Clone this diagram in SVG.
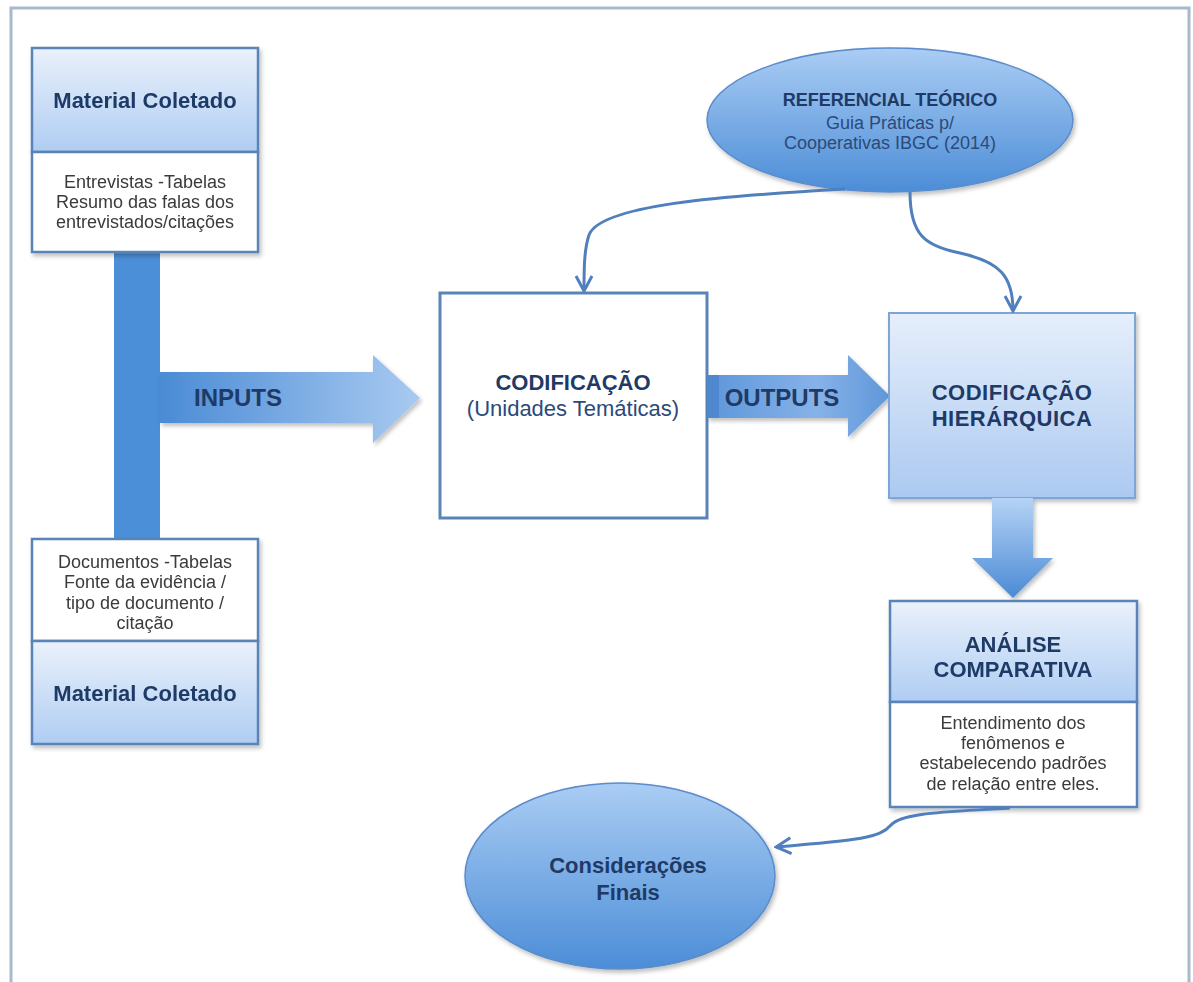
<svg xmlns="http://www.w3.org/2000/svg" width="1193" height="982" viewBox="0 0 1193 982">
  <style>
    .frame { fill: none; stroke: #a7b9cb; stroke-width: 3; }
    .hdr { fill: url(#hdrGrad); stroke: #5a84b8; stroke-width: 2.5; }
    .body { fill: #ffffff; stroke: #5a84b8; stroke-width: 2.5; }
    .plain { fill: #ffffff; stroke: #5a84b8; stroke-width: 3; }
    .title { font-family: "Liberation Sans", Arial, sans-serif; font-weight: bold; fill: #1f3a66; text-anchor: middle; }
    .txt { font-family: "Liberation Sans", Arial, sans-serif; fill: #3a3a3a; text-anchor: middle; }
    .sub { font-family: "Liberation Sans", Arial, sans-serif; fill: #2c4a78; text-anchor: middle; }
    .conn { fill: none; stroke: #4f7fbd; stroke-width: 3; }
  </style>
  <defs>
    <linearGradient id="hdrGrad" x1="0" y1="0" x2="0" y2="1">
      <stop offset="0" stop-color="#eaf1fb"/>
      <stop offset="1" stop-color="#afcdf3"/>
    </linearGradient>
    <linearGradient id="hierGrad" x1="0" y1="0" x2="0" y2="1">
      <stop offset="0" stop-color="#e6effb"/>
      <stop offset="1" stop-color="#abc9f1"/>
    </linearGradient>
    <linearGradient id="ellGrad" x1="0" y1="0" x2="0" y2="1">
      <stop offset="0" stop-color="#aacdf4"/>
      <stop offset="1" stop-color="#4c8dd7"/>
    </linearGradient>
    <linearGradient id="inGrad" x1="160" y1="0" x2="420" y2="0" gradientUnits="userSpaceOnUse">
      <stop offset="0" stop-color="#4a8bd5"/>
      <stop offset="1" stop-color="#a9caf1"/>
    </linearGradient>
    <linearGradient id="outGrad" x1="707" y1="0" x2="890" y2="0" gradientUnits="userSpaceOnUse">
      <stop offset="0" stop-color="#5d96da"/>
      <stop offset="0.6" stop-color="#86b2e8"/>
      <stop offset="1" stop-color="#5f97d9"/>
    </linearGradient>
    <linearGradient id="downGrad" x1="0" y1="498" x2="0" y2="598" gradientUnits="userSpaceOnUse">
      <stop offset="0" stop-color="#b6d3f5"/>
      <stop offset="1" stop-color="#4a8ad5"/>
    </linearGradient>
    <filter id="shadow" x="-10%" y="-10%" width="125%" height="125%">
      <feDropShadow dx="2" dy="3" stdDeviation="2" flood-color="#000000" flood-opacity="0.25"/>
    </filter>
    <marker id="arrow" viewBox="0 0 20 20" refX="18" refY="10" markerWidth="20" markerHeight="20" markerUnits="userSpaceOnUse" orient="auto">
      <path d="M3,2 L18,10 L3,18" fill="none" stroke="#4f7fbd" stroke-width="3"/>
    </marker>
  </defs>

  <rect x="0" y="0" width="1193" height="982" fill="#ffffff"/>
  <path class="frame" d="M11,990 L11,8 L1189,8 L1189,990"/>

  <!-- T-shaped INPUTS connector -->
  <g id="inputs">
    <rect x="114" y="252" width="46" height="288" fill="#4b8fd8"/>
    <polygon points="160,372 373,372 373,355 420,398 373,443 373,423 160,423" fill="url(#inGrad)" filter="url(#shadow)"/>
    <text class="title" x="238" y="406" font-size="24" fill="#1f4a85">INPUTS</text>
  </g>

  <g id="material-top" filter="url(#shadow)">
    <rect class="hdr" x="32" y="48" width="226" height="104"/>
    <rect class="body" x="32" y="152" width="226" height="100"/>
    <text class="title" x="145" y="108" font-size="22">Material Coletado</text>
    <text class="txt" x="145" y="188" font-size="18">Entrevistas -Tabelas</text>
    <text class="txt" x="145" y="208" font-size="18">Resumo das falas dos</text>
    <text class="txt" x="145" y="228" font-size="18">entrevistados/citações</text>
  </g>

  <g id="material-bottom" filter="url(#shadow)">
    <rect class="body" x="32" y="539" width="226" height="102"/>
    <rect class="hdr" x="32" y="641" width="226" height="103"/>
    <text class="txt" x="145" y="568" font-size="18">Documentos -Tabelas</text>
    <text class="txt" x="145" y="588" font-size="18">Fonte da evidência /</text>
    <text class="txt" x="145" y="609" font-size="18">tipo de documento /</text>
    <text class="txt" x="145" y="629" font-size="18">citação</text>
    <text class="title" x="145" y="701" font-size="22">Material Coletado</text>
  </g>

  <g id="codificacao">
    <rect class="plain" x="440" y="293" width="267" height="225"/>
    <text class="title" x="573" y="390" font-size="22">CODIFICAÇÃO</text>
    <text class="sub" x="573" y="416" font-size="22">(Unidades Temáticas)</text>
  </g>

  <g id="outputs">
    <polygon points="707,375 848,375 848,355 890,396 848,437 848,418 707,418" fill="url(#outGrad)" filter="url(#shadow)"/>
    <rect x="707" y="375" width="12" height="43" fill="#4f88cf"/>
    <text class="title" x="782" y="406" font-size="24" fill="#1f4a85">OUTPUTS</text>
  </g>

  <g id="codificacao-hierarquica">
    <rect x="889" y="313" width="246" height="185" fill="url(#hierGrad)" stroke="#7ea5d6" stroke-width="2" filter="url(#shadow)"/>
    <text class="title" x="1012" y="400" font-size="22" letter-spacing="0.5">CODIFICAÇÃO</text>
    <text class="title" x="1012" y="426" font-size="22" letter-spacing="0.5">HIERÁRQUICA</text>
  </g>

  <g id="down-arrow">
    <polygon points="992,498 1033,498 1033,558 1053,558 1013,598 972,558 992,558" fill="url(#downGrad)" filter="url(#shadow)"/>
  </g>

  <g id="analise" filter="url(#shadow)">
    <rect class="hdr" x="890" y="601" width="247" height="101"/>
    <rect class="body" x="890" y="702" width="247" height="105"/>
    <text class="title" x="1013" y="652" font-size="22">ANÁLISE</text>
    <text class="title" x="1013" y="677" font-size="22">COMPARATIVA</text>
    <text class="txt" x="1013" y="729" font-size="18">Entendimento dos</text>
    <text class="txt" x="1013" y="749" font-size="18">fenômenos e</text>
    <text class="txt" x="1013" y="769" font-size="18">estabelecendo padrões</text>
    <text class="txt" x="1013" y="790" font-size="18">de relação entre eles.</text>
  </g>

  <g id="referencial">
    <ellipse cx="890" cy="120" rx="183" ry="72" fill="url(#ellGrad)" stroke="#5b8ccb" stroke-width="1.5" filter="url(#shadow)"/>
    <text class="title" x="890" y="106" font-size="18">REFERENCIAL TEÓRICO</text>
    <text class="sub" x="890" y="129" font-size="18">Guia Práticas p/</text>
    <text class="sub" x="890" y="149" font-size="18">Cooperativas IBGC (2014)</text>
  </g>

  <g id="consideracoes">
    <ellipse cx="620" cy="876" rx="155" ry="93" fill="url(#ellGrad)" stroke="#5b8ccb" stroke-width="1.5" filter="url(#shadow)"/>
    <text class="title" x="628" y="873" font-size="22">Considerações</text>
    <text class="title" x="628" y="900" font-size="22">Finais</text>
  </g>

  <g id="connectors">
    <path class="conn" d="M845,189 C720,196 600,205 589,235 C584,250 584,270 584,291" marker-end="url(#arrow)"/>
    <path class="conn" d="M910,192 C910,235 925,246 960,253 C1000,262 1013,276 1013,311" marker-end="url(#arrow)"/>
    <path class="conn" d="M1010,808 C950,812 902,812 891,825 C880,838 860,840 776,847" marker-end="url(#arrow)"/>
  </g>
</svg>
